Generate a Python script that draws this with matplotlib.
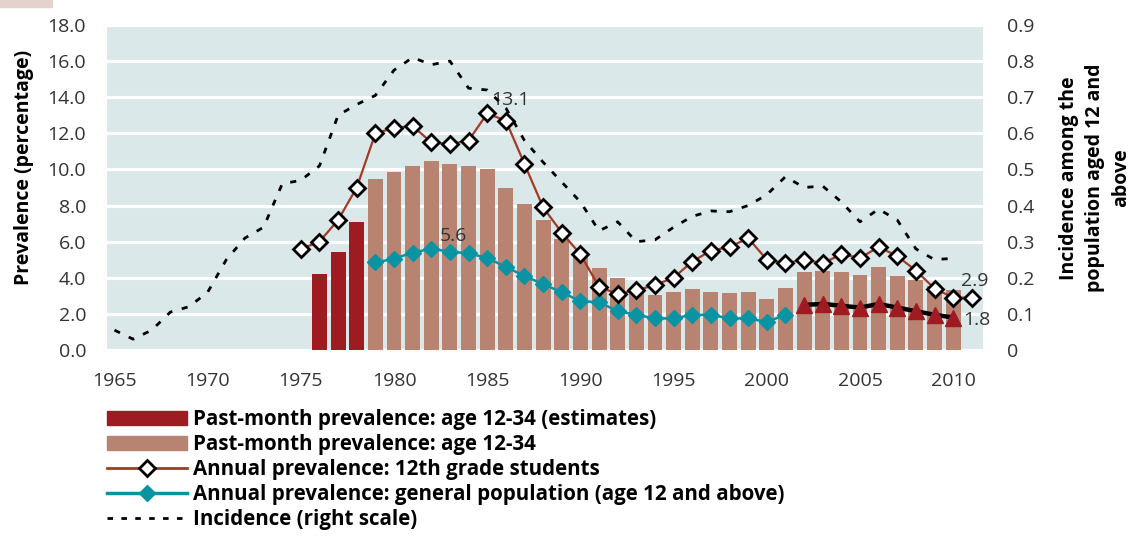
import matplotlib
matplotlib.use("Agg")
import matplotlib.pyplot as plt
from matplotlib.patches import Patch, Rectangle
from matplotlib.lines import Line2D
import numpy as np

plt.rcParams["font.family"] = ["Open Sans", "DejaVu Sans"]

# --------------------------------------------------
# DATA
# --------------------------------------------------
years = list(range(1965, 2012))

# past-month prevalence age 12-34, estimates (dark bars)
est_years = [1976, 1977, 1978]
est_values = [4.2, 5.45, 7.1]

# past-month prevalence age 12-34 (light bars)
pm_years = list(range(1979, 2011))
pm_values = [9.45, 9.85, 10.2, 10.45, 10.3, 10.2, 10.05, 9.0, 8.1, 7.2,
             6.15, 5.3, 4.55, 4.0, 3.4, 3.05, 3.2, 3.4, 3.2, 3.15,
             3.2, 2.8, 3.45, 4.3, 4.4, 4.3, 4.15, 4.6, 4.1, 3.9,
             3.55, 3.35]

# annual prevalence, 12th grade students
g12_years = list(range(1975, 2012))
g12_values = [5.6, 6.0, 7.2, 9.0, 12.0, 12.3, 12.4, 11.5, 11.4, 11.6,
              13.1, 12.7, 10.3, 7.9, 6.5, 5.3, 3.5, 3.1, 3.3, 3.6,
              4.0, 4.9, 5.5, 5.7, 6.2, 5.0, 4.8, 5.0, 4.8, 5.3,
              5.1, 5.7, 5.2, 4.4, 3.4, 2.9, 2.9]

# annual prevalence, general population (age 12 and above)
gp_years = list(range(1979, 2002))
gp_values = [4.85, 5.05, 5.4, 5.6, 5.45, 5.35, 5.1, 4.6, 4.1, 3.65,
             3.2, 2.7, 2.65, 2.15, 1.95, 1.75, 1.75, 1.95, 1.95, 1.75,
             1.75, 1.55, 1.95]

# annual prevalence, general population, later survey (triangles)
gp2_years = list(range(2002, 2011))
gp2_values = [2.5, 2.55, 2.45, 2.35, 2.55, 2.35, 2.15, 1.95, 1.8]

# incidence (right scale)
inc_years = list(range(1965, 2011))
inc_values = [0.055, 0.03, 0.055, 0.105, 0.12, 0.16, 0.25, 0.31, 0.34, 0.46,
              0.47, 0.51, 0.65, 0.68, 0.705, 0.775, 0.81, 0.79, 0.80, 0.725,
              0.72, 0.67, 0.58, 0.52, 0.465, 0.41, 0.33, 0.355, 0.30, 0.305,
              0.34, 0.37, 0.385, 0.383, 0.40, 0.43, 0.48, 0.45, 0.454, 0.41,
              0.355, 0.39, 0.36, 0.28, 0.25, 0.254]

left_ticks = [0, 2, 4, 6, 8, 10, 12, 14, 16, 18]
right_ticks = [0, 0.1, 0.2, 0.3, 0.4, 0.5, 0.6, 0.7, 0.8, 0.9]
year_ticks = [1965, 1970, 1975, 1980, 1985, 1990, 1995, 2000, 2005, 2010]

# --------------------------------------------------
# STYLE
# --------------------------------------------------
BG = "#DAE8EA"
DARK_RED = "#9E1B22"
BAR = "#B88371"
RUST = "#A33A26"
TEAL = "#0A93A2"
TXT = "#333333"

fig = plt.figure(figsize=(11.32, 5.37), dpi=100)
ax = fig.add_axes([107 / 1132, 1 - 350 / 537, 876 / 1132, 325 / 537])
ax.set_facecolor(BG)

ax.bar(est_years, est_values, width=0.8, color=DARK_RED, zorder=2)
ax.bar(pm_years, pm_values, width=0.8, color=BAR, zorder=2)

ax.plot(g12_years, g12_values, color=RUST, lw=1.6, marker="D", ms=8,
        mfc="white", mec="black", mew=2.0, zorder=5)
ax.plot(gp_years, gp_values, color=TEAL, lw=1.8, marker="D", ms=8,
        mfc=TEAL, mec=TEAL, zorder=4)
ax.plot(gp2_years, gp2_values, color="black", lw=3.2, zorder=4)
ax.plot(gp2_years, gp2_values, ls="none", marker="^", ms=12,
        mfc=DARK_RED, mec=DARK_RED, zorder=4)

ax.set_xlim(1964.6, 2011.6)
ax.set_ylim(0, 18)
ax.set_yticks(left_ticks)
ax.set_yticklabels([f"{v:.1f}" for v in left_ticks])
ax.set_xticks(year_ticks)
ax.tick_params(axis="both", length=0, labelsize=14, labelcolor=TXT)
ax.tick_params(axis="y", pad=15)
ax.tick_params(axis="x", pad=16)
ax.yaxis.grid(True, color="white", lw=2.3)
ax.set_axisbelow(True)
for s in ax.spines.values():
    s.set_visible(False)

# value labels
ax.annotate("13.1", (1985, 13.1), xytext=(17, 10), textcoords="offset points",
            ha="center", va="center", fontsize=14, color=TXT)
ax.annotate("5.6", (1982, 5.6), xytext=(16, 9), textcoords="offset points",
            ha="center", va="center", fontsize=14, color=TXT)
ax.annotate("2.9", (2011, 2.9), xytext=(2, 12), textcoords="offset points",
            ha="center", va="center", fontsize=14, color=TXT)
ax.annotate("1.8", (2010, 1.8), xytext=(17, -2), textcoords="offset points",
            ha="center", va="center", fontsize=14, color=TXT)

# right scale: incidence
ax2 = ax.twinx()
ax2.plot(inc_years, inc_values, color="black", lw=2.0, ls=(0, (2.2, 3.5)), zorder=3)
ax2.set_ylim(0, 0.9)
ax2.set_yticks(right_ticks)
ax2.set_yticklabels(["0"] + [f"{v:.1f}" for v in right_ticks[1:]])
ax2.tick_params(axis="y", length=0, labelsize=14, labelcolor=TXT, pad=17)
for s in ax2.spines.values():
    s.set_visible(False)

# axis titles
fig.text(24 / 1132, 1 - 167 / 537, "Prevalence (percentage)", rotation=90,
         ha="center", va="center", fontsize=14, fontweight="bold", color="black")
fig.text(1095 / 1132, 1 - 178 / 537, "Incidence among the\npopulation aged 12 and\nabove",
         rotation=90, ha="center", va="center", multialignment="center",
         fontsize=14, fontweight="bold", color="black", linespacing=1.4)

# legend
handles = [
    Patch(color=DARK_RED),
    Patch(color=BAR),
    Line2D([], [], color=RUST, lw=2, marker="D", ms=8, mfc="white", mec="black", mew=2),
    Line2D([], [], color=TEAL, lw=2.5, marker="D", ms=8, mfc=TEAL, mec=TEAL),
    Line2D([], [], color="black", lw=2, ls=(0, (2, 3))),
]
labels = [
    "Past-month prevalence: age 12-34 (estimates)",
    "Past-month prevalence: age 12-34",
    "Annual prevalence: 12th grade students",
    "Annual prevalence: general population (age 12 and above)",
    "Incidence (right scale)",
]
fig.legend(handles, labels, loc="upper left", bbox_to_anchor=(107 / 1132, 1 - 409 / 537),
           frameon=False, borderpad=0, borderaxespad=0, handlelength=3.9,
           handletextpad=0.3, labelspacing=0.2,
           prop={"family": ["Open Sans", "DejaVu Sans"], "weight": "bold", "size": 14.8})

fig.patches.append(Rectangle((0, 1 - 7 / 537), 52 / 1132, 7 / 537,
                             transform=fig.transFigure, color="#E6D2CC"))

fig.savefig("out.png", dpi=100)
